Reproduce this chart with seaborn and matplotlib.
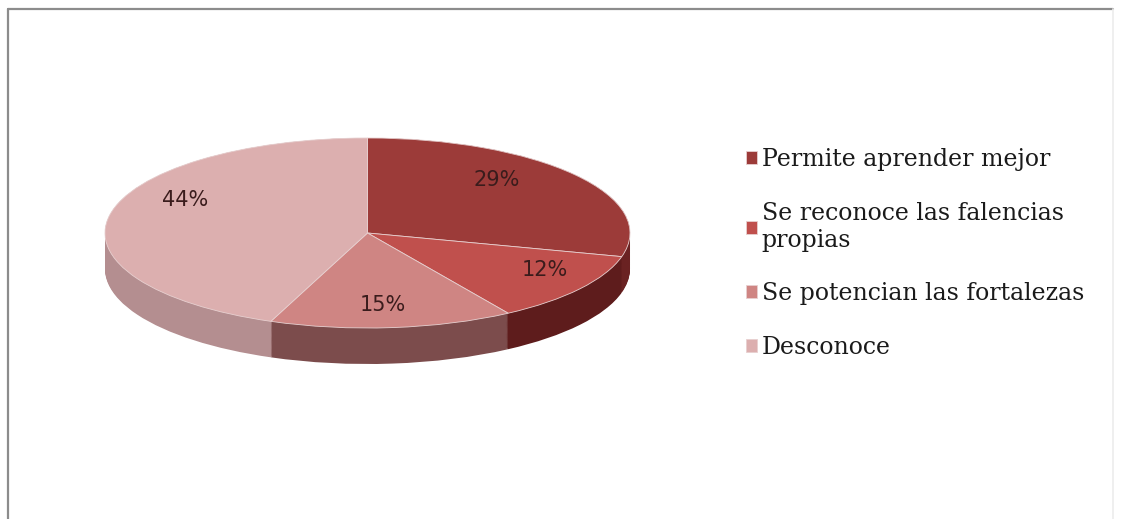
import numpy as np
import matplotlib
matplotlib.use("Agg")
import matplotlib.pyplot as plt
import seaborn as sns
from matplotlib.lines import Line2D

categories = ["Permite aprender mejor", "Se reconoce las falencias\npropias",
              "Se potencian las fortalezas", "Desconoce"]
values = [29, 12, 15, 44]
top_colors = ["#9c3b39", "#c0504d", "#cf8583", "#dcafaf"]
side_colors = ["#6a2222", "#5e1c1c", "#7c4c4c", "#b48e90"]

sns.set_theme(style="white")
plt.rcParams["font.family"] = ["DejaVu Sans"]

W, H = 1122, 519
fig = plt.figure(figsize=(W / 100, H / 100), dpi=100)
fig.patch.set_facecolor("white")

# axes in pixels: pie ellipse region
left, right, top, bottom = 105, 630, 138, 366
ax = fig.add_axes([left / W, 1 - bottom / H, (right - left) / W, (bottom - top) / H])
ry_px = 95.0
yrange = (bottom - top) / ry_px
depth = 36.0 / ry_px

# side (depth) layers
for d in np.linspace(depth, 0.0, 40):
    ax.pie(values, colors=side_colors, startangle=90, counterclock=False,
           center=(0, -d), radius=1.0, wedgeprops=dict(linewidth=0))

wedges, texts, autotexts = ax.pie(
    values, colors=top_colors, startangle=90, counterclock=False,
    center=(0, 0), radius=1.0, autopct="%1.0f%%", pctdistance=0.72,
    wedgeprops=dict(linewidth=0.6, edgecolor="#e8d0d0"),
    textprops=dict(fontsize=15, color="#3a1c1c", family=["DejaVu Sans"]))

# label placement (pixel positions in the figure, converted to data units)
label_px = [(497, 180), (545, 270), (383, 305), (185, 200)]
cx_px, cy_px = (left + right) / 2, top + ry_px
rx_px = (right - left) / 2
for t, (px, py) in zip(autotexts, label_px):
    t.set_position(((px - cx_px) / rx_px, (cy_px - py) / ry_px))

ax.set_aspect("auto")
ax.set_xlim(-1, 1)
ax.set_ylim(1 - yrange, 1)
ax.axis("off")

leg = fig.legend(wedges, categories, loc="upper left",
                 bbox_to_anchor=(725 / W, 1 - 127 / H), frameon=False,
                 prop=dict(family=["DejaVu Serif"], size=17),
                 labelspacing=1.3, handlelength=0.45, handleheight=0.45,
                 handletextpad=0.2)
for t in leg.get_texts():
    t.set_color("#1a1a1a")

# frame lines (top/left visible, right faint)
fig.add_artist(Line2D([8 / W, 1113 / W], [1 - 8.5 / H, 1 - 8.5 / H],
                      transform=fig.transFigure, color="#8c8c8c", linewidth=1.6))
fig.add_artist(Line2D([8 / W, 8 / W], [0, 1 - 8.5 / H],
                      transform=fig.transFigure, color="#8c8c8c", linewidth=1.6))
fig.add_artist(Line2D([1113 / W, 1113 / W], [0, 1 - 8.5 / H],
                      transform=fig.transFigure, color="#ececec", linewidth=1.2))

fig.savefig("out.png", dpi=100, facecolor="white")
